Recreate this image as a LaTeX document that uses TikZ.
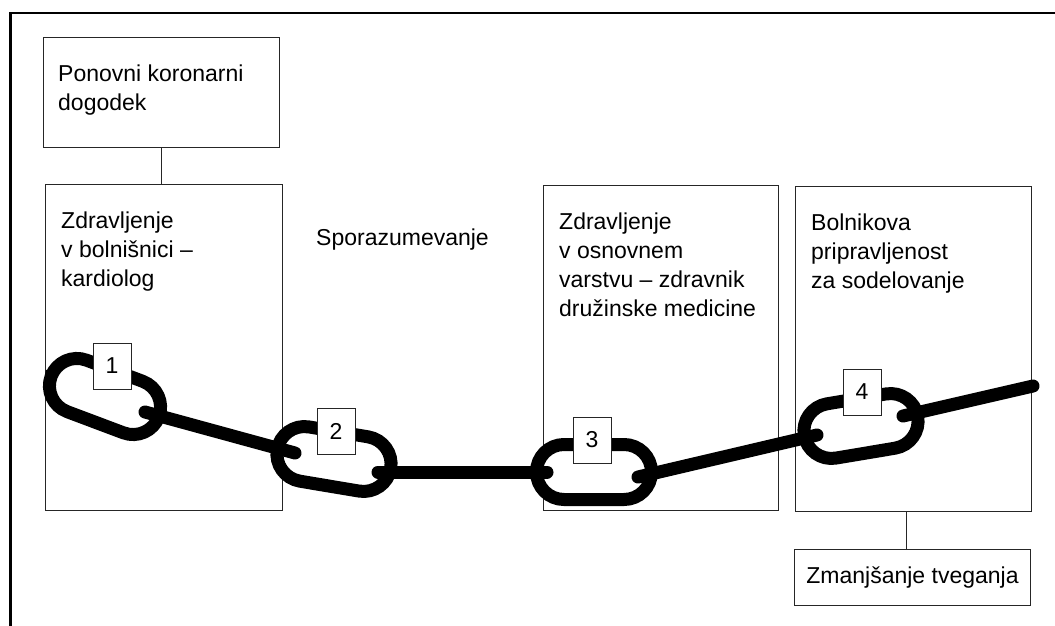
\documentclass[tikz,border=0pt]{standalone}
\usepackage{fontspec}
\setmainfont{Liberation Sans}
\newcommand\chainring[2]{
  \draw[ring, shift={#1}, rotate=#2, rounded corners=27.5pt] (-57.5,-27.5) rectangle (57.5,27.5);
}

\begin{document}
\begin{tikzpicture}[x=1pt, y=-1pt,
	box/.style={draw=black!85, line width=1pt, anchor=north west, inner sep=0},
	txt/.style={anchor=north west, align=left, inner sep=0, font=\fontsize{23}{29}\selectfont},
	ring/.style={black, line width=13pt},
	bar/.style={black, line width=13pt, line cap=round},
	num/.style={draw=black!85, fill=white, line width=1pt, minimum width=38pt, minimum height=46pt, inner sep=0, font=\fontsize{23}{29}\selectfont}]
	\useasboundingbox (0,0) rectangle (1055,626);
	\draw[black, line width=2.7pt] (10.5,626) -- (10.5,13) -- (1055,13);

	\node[box, minimum width=236pt, minimum height=110pt] (dogodek) at (43,37) {};
	\node[box, minimum width=237pt, minimum height=326pt] (bolnisnica) at (45,184) {};
	\node[box, minimum width=235pt, minimum height=325pt] (osnovno) at (543,185) {};
	\node[box, minimum width=236pt, minimum height=325pt] (pripravljenost) at (795,186) {};
	\node[box, minimum width=236pt, minimum height=56pt, font=\fontsize{23}{29}\selectfont] (tveganje) at (794,549) {Zmanjšanje tveganja};

	\node[txt] (dogodektxt) at ([xshift=15pt, yshift=-28pt]dogodek.north west) {Ponovni koronarni\\dogodek};
	\node[txt] (bolnisnicatxt) at ([xshift=16pt, yshift=-28pt]bolnisnica.north west) {Zdravljenje\\v bolnišnici –\\kardiolog};
	\node[txt] (osnovnotxt) at ([xshift=16pt, yshift=-28pt]osnovno.north west) {Zdravljenje\\v osnovnem\\varstvu – zdravnik\\družinske medicine};
	\node[txt] (pripravljenosttxt) at ([xshift=16pt, yshift=-28pt]pripravljenost.north west) {Bolnikova\\pripravljenost\\za sodelovanje};
	\node[anchor=base west, inner sep=0, font=\fontsize{23}{29}\selectfont] (sporazum) at (316,245) {Sporazumevanje};

	\draw[black!85, line width=1pt] (dogodek.south) -- (dogodek.south |- bolnisnica.north);
	\draw[black!85, line width=1pt] ([xshift=-6pt]tveganje.north) -- ([xshift=-6pt]tveganje.north |- pripravljenost.south);

	\chainring{(105,396.5)}{-20.6}
	\chainring{(334,459)}{-9.5}
	\chainring{(594,472)}{0}
	\chainring{(861,426)}{9.5}

	\coordinate (k1) at (145,412);
	\coordinate (k2a) at (295,453);
	\coordinate (k2b) at (378,472);
	\coordinate (k3a) at (547,472);
	\coordinate (k3b) at (638,477);
	\coordinate (k4a) at (817,435);
	\coordinate (k4b) at (903,416);
	\coordinate (konec) at (1033,386);
	\draw[bar] (k1) -- (k2a);
	\draw[bar] (k2b) -- (k3a);
	\draw[bar] (k3b) -- (k4a);
	\draw[bar] (k4b) -- (konec);

	\node[num] (n1) at (112,366) {1};
	\node[num] (n2) at (336,431) {2};
	\node[num] (n3) at (592,440) {3};
	\node[num] (n4) at (862,392) {4};
\end{tikzpicture}
\end{document}
